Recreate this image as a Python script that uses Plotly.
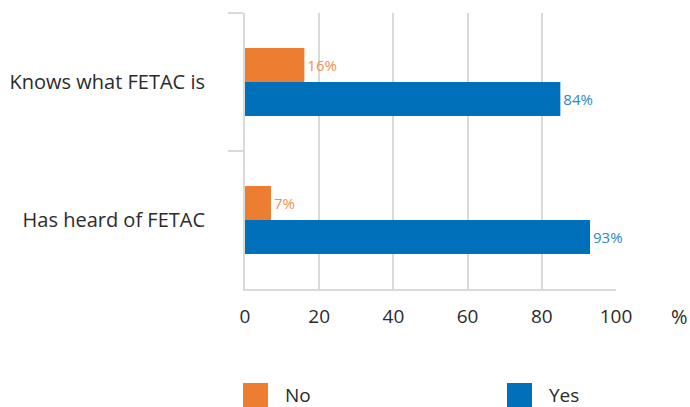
import plotly.graph_objects as go

categories = ["Knows what FETAC is", "Has heard of FETAC"]
no_values = [16, 7]
yes_values = [85, 93]          # bar lengths as drawn in the picture
no_labels = ["16%", "7%"]
yes_labels = ["84%", "93%"]    # labels as printed
series_names = ["No", "Yes"]
x_ticks = [0, 20, 40, 60, 80, 100]

orange = "#ED7D31"
blue = "#0070BA"
orange_lbl = "#F2914C"
blue_lbl = "#2E86CC"
grid = "#D9D9D9"
text_col = "#2B2B2B"
font_family = "'Open Sans', sans-serif"

fig = go.Figure()
fig.add_trace(go.Bar(
    y=categories, x=no_values, orientation="h", name=series_names[0],
    marker=dict(color=orange, line=dict(width=0)),
    text=no_labels, textposition="outside",
    textfont=dict(color=orange_lbl, size=15, family=font_family),
    cliponaxis=False, showlegend=False,
))
fig.add_trace(go.Bar(
    y=categories, x=yes_values, orientation="h", name=series_names[1],
    marker=dict(color=blue, line=dict(width=0)),
    text=yes_labels, textposition="outside",
    textfont=dict(color=blue_lbl, size=15, family=font_family),
    cliponaxis=False, showlegend=False,
))

# plot area geometry (pixels) for custom legend placement
L, R, T, B = 245, 616, 13, 289
W, H = R - L, B - T
def px(x):
    return (x - L) / W
def py(y):
    return (B - y) / H

shapes = []
annotations = []
legend_items = [(series_names[0], orange, 243), (series_names[1], blue, 507)]
for name, col, x0 in legend_items:
    shapes.append(dict(type="rect", xref="paper", yref="paper",
                       x0=px(x0), x1=px(x0 + 25), y0=py(408), y1=py(383),
                       fillcolor=col, line=dict(width=0)))
    annotations.append(dict(xref="paper", yref="paper", x=px(x0 + 40), y=py(395),
                            text=name, showarrow=False, xanchor="left", yanchor="middle",
                            font=dict(size=19, color=text_col, family=font_family)))
annotations.append(dict(xref="paper", yref="paper", x=px(679), y=py(316),
                        text="%", showarrow=False, xanchor="center", yanchor="middle",
                        font=dict(size=20, color=text_col, family=font_family)))

fig.update_layout(
    width=690, height=407,
    margin=dict(l=L, r=690 - R, t=T, b=407 - B, autoexpand=False),
    paper_bgcolor="white", plot_bgcolor="white",
    barmode="group", bargap=0.507, bargroupgap=0,
    font=dict(family=font_family, color=text_col),
    shapes=shapes, annotations=annotations,
    showlegend=False,
    xaxis=dict(range=[0, 100], tickvals=x_ticks, showgrid=True, gridcolor=grid, gridwidth=2,
               zeroline=False, showline=True, linecolor=grid, linewidth=2,
               ticks="", tickfont=dict(size=19, color=text_col), fixedrange=True,
               ticklabelstandoff=9, automargin=False),
    yaxis=dict(autorange="reversed", showgrid=False, zeroline=False,
               showline=True, linecolor=grid, linewidth=2,
               ticks="outside", tickson="boundaries", ticklen=15, tickcolor=grid, tickwidth=2,
               tickfont=dict(size=20, color=text_col), ticklabelstandoff=34,
               fixedrange=True, automargin=False),
)

fig.write_html("out.html", config={"displayModeBar": False},
               post_script="document.body.style.margin='0';")
